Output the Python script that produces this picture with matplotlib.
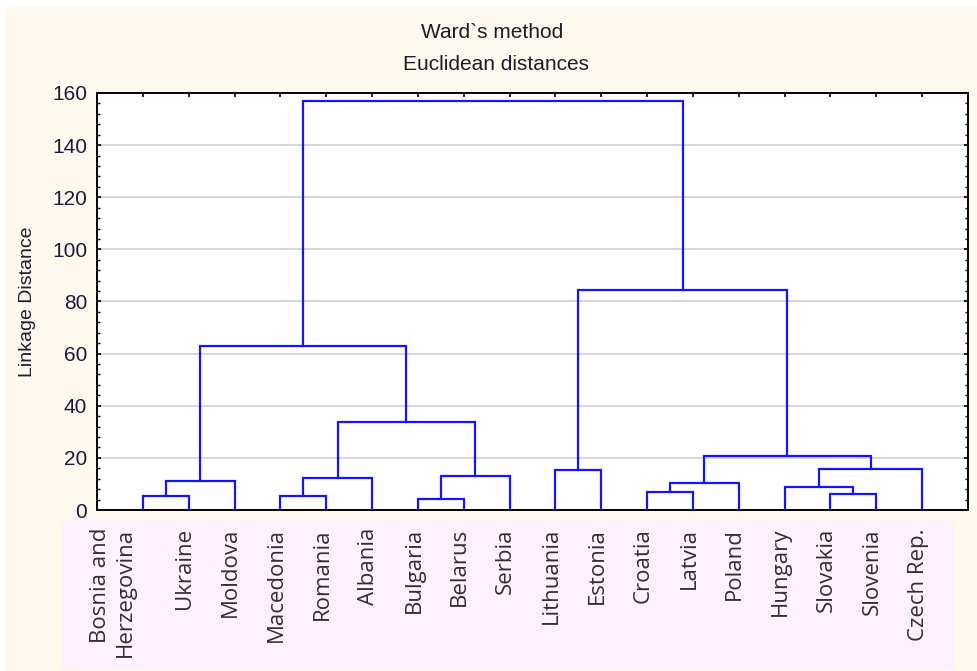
import matplotlib
matplotlib.use("Agg")
import matplotlib.pyplot as plt
import matplotlib.transforms as mtransforms
from matplotlib.patches import Rectangle
from matplotlib.ticker import MultipleLocator

# Leaves in dendrogram order
countries = ["Bosnia and\nHerzegovina", "Ukraine", "Moldova", "Macedonia", "Romania",
             "Albania", "Bulgaria", "Belarus", "Serbia", "Lithuania", "Estonia",
             "Croatia", "Latvia", "Poland", "Hungary", "Slovakia", "Slovenia",
             "Czech Rep."]

# Ward linkage: ids 0..17 are leaves, each merge creates id 18, 19, ...
merge_left = [0, 18, 3, 20, 6, 22, 21, 19, 9, 11, 27, 15, 14, 30, 28, 26, 25]
merge_right = [1, 2, 4, 5, 7, 8, 23, 24, 10, 12, 13, 16, 29, 17, 31, 32, 33]
merge_height = [5.5, 11.1, 5.5, 12.4, 4.2, 13.0, 33.8, 62.9, 15.2, 6.8, 10.2,
                6.0, 8.9, 15.7, 20.6, 84.4, 156.8]

CREAM = "#fef9ee"
PINK = "#fcf1fc"
BLUE = "#1414ff"
SANS = ["Liberation Sans", "DejaVu Sans"]

fig = plt.figure(figsize=(9.77, 6.71), dpi=100, facecolor="white")
W, H = 977, 671

# backgrounds: cream panel and pink label strip
fig.patches.append(Rectangle((5 / W, 0), 1, (H - 7) / H, transform=fig.transFigure,
                             facecolor=CREAM, edgecolor="none", zorder=-10))
fig.patches.append(Rectangle((62 / W, 1 / H), (954 - 62) / W, (670 - 520) / H,
                             transform=fig.transFigure, facecolor=PINK,
                             edgecolor="none", zorder=-9))

ax = fig.add_axes([97 / W, (H - 510) / H, (968 - 97) / W, (510 - 93) / H])
ax.set_facecolor("white")

# positions and heights of every node
xpos = {i: i + 1.0 for i in range(len(countries))}
ypos = {i: 0.0 for i in range(len(countries))}
for k, (a, b, h) in enumerate(zip(merge_left, merge_right, merge_height)):
    node = len(countries) + k
    xa, xb = xpos[a], xpos[b]
    ax.plot([xa, xa, xb, xb], [ypos[a], h, h, ypos[b]], color=BLUE, lw=1.6,
            solid_joinstyle="miter", zorder=3)
    xpos[node] = (xa + xb) / 2
    ypos[node] = h

ax.set_xlim(0, len(countries) + 1)
ax.set_ylim(0, 160)

ax.yaxis.set_major_locator(MultipleLocator(20))
ax.yaxis.set_minor_locator(MultipleLocator(4))
ax.grid(axis="y", which="major", color="#d6d6d6", lw=1.4, zorder=0)
ax.set_axisbelow(True)

ax.tick_params(axis="y", which="both", direction="in", left=True, right=True,
               color="black", labelsize=15, labelcolor="#1c1c3a", pad=7)
ax.tick_params(axis="y", which="major", length=3, width=1.2)
ax.tick_params(axis="y", which="minor", length=2.5, width=1)

ax.set_xticks(range(1, len(countries) + 1))
ax.set_xticklabels(countries, rotation=90, family=["Open Sans", "DejaVu Sans"],
                   fontsize=16, color="#303030", va="top", ha="center",
                   multialignment="right")
ax.tick_params(axis="x", direction="in", top=True, bottom=False, length=3,
               width=1.2, pad=13)

# shift labels slightly left; the two-line label sits further left
for lab in ax.get_xticklabels():
    dx = -30 if "\n" in lab.get_text() else -4
    off = mtransforms.ScaledTranslation(dx / 100, 0, fig.dpi_scale_trans)
    lab.set_transform(lab.get_transform() + off)

for s in ax.spines.values():
    s.set_linewidth(1.4)
    s.set_color("black")

for lab in ax.get_yticklabels():
    lab.set_family(SANS)

ax.set_ylabel("Linkage Distance", fontsize=14, family=SANS, color="#1c1c2c",
              va="center")
ax.yaxis.set_label_coords(-0.080, 0.5)

fig.text(492 / W, 1 - 32 / H, "Ward`s method", ha="center", va="center",
         fontsize=15, family=SANS, color="#1c1c2c")
fig.text(496 / W, 1 - 64 / H, "Euclidean distances", ha="center", va="center",
         fontsize=15, family=SANS, color="#1c1c2c")

fig.savefig("out.png", dpi=100, facecolor=fig.get_facecolor())
